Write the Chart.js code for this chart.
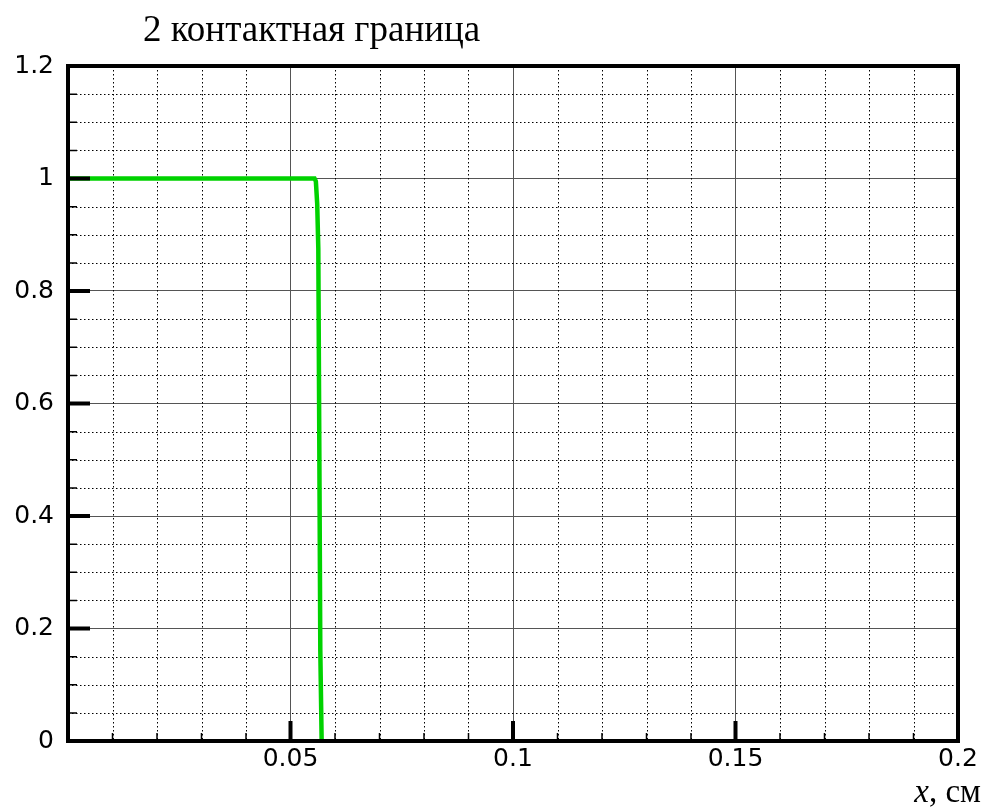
<!DOCTYPE html>
<html>
<head>
<meta charset="utf-8">
<script src="https://cdn.jsdelivr.net/npm/chart.js@4/dist/chart.umd.min.js"></script>
<style>
  html, body { margin: 0; padding: 0; background: #fff; }
  #wrap { width: 989px; height: 812px; }
</style>
</head>
<body>
<div id="wrap"><canvas id="c" width="989" height="812"></canvas></div>
<script>
// Concentration profile across the second contact boundary
const profileX = [0, 0.0554, 0.0557, 0.0560, 0.05625, 0.05649, 0.0567, 0.0570];
const profileY = [1, 1, 0.995, 0.955, 0.875, 0.5, 0.16, 0];

// Major axis ticks and their labels
const xTickValues = [0, 0.05, 0.1, 0.15, 0.2];
const xTickLabels = ['', '0.05', '0.1', '0.15', '0.2'];
const yTickValues = [0, 0.2, 0.4, 0.6, 0.8, 1, 1.2];
const yTickLabels = ['0', '0.2', '0.4', '0.6', '0.8', '1', '1.2'];

// Minor (dotted) grid positions
const xMinor = [0.01, 0.02, 0.03, 0.04, 0.06, 0.07, 0.08, 0.09, 0.11, 0.12, 0.13, 0.14, 0.16, 0.17, 0.18, 0.19];
const yMinor = [0.05, 0.1, 0.15, 0.25, 0.3, 0.35, 0.45, 0.5, 0.55, 0.65, 0.7, 0.75, 0.85, 0.9, 0.95, 1.05, 1.1, 1.15];

const titleText = '2 контактная граница';
const unitVar = 'x';
const unitRest = ', см';

const points = profileX.map((x, i) => ({ x: x, y: profileY[i] }));

const SERIF = '"Liberation Serif", "Times New Roman", serif';

const frame = {
  id: 'frame',
  beforeDatasetsDraw(chart) {
    const { ctx, chartArea: a, scales: { x, y } } = chart;
    ctx.save();
    ctx.strokeStyle = '#000';
    ctx.lineWidth = 1;
    ctx.setLineDash([1.5, 2.5]);
    ctx.beginPath();
    xMinor.forEach(v => {
      const px = Math.round(x.getPixelForValue(v)) + 0.5;
      ctx.moveTo(px, a.top); ctx.lineTo(px, a.bottom);
    });
    yMinor.forEach(v => {
      const py = Math.round(y.getPixelForValue(v)) + 0.5;
      ctx.moveTo(a.left, py); ctx.lineTo(a.right, py);
    });
    ctx.stroke();
    ctx.restore();
  },
  afterDatasetsDraw(chart) {
    const { ctx, chartArea: a, scales: { x, y } } = chart;
    ctx.save();
    ctx.strokeStyle = '#000';
    ctx.lineCap = 'butt';
    // minor ticks
    ctx.lineWidth = 1.5;
    ctx.beginPath();
    xMinor.forEach(v => {
      const px = x.getPixelForValue(v);
      ctx.moveTo(px, a.bottom); ctx.lineTo(px, a.bottom - 8);
    });
    yMinor.forEach(v => {
      const py = y.getPixelForValue(v);
      ctx.moveTo(a.left, py); ctx.lineTo(a.left + 9, py);
    });
    ctx.stroke();
    // major ticks
    ctx.lineWidth = 4;
    ctx.beginPath();
    xTickValues.forEach(v => {
      const px = x.getPixelForValue(v);
      ctx.moveTo(px, a.bottom); ctx.lineTo(px, a.bottom - 20);
    });
    yTickValues.forEach(v => {
      const py = y.getPixelForValue(v);
      ctx.moveTo(a.left, py); ctx.lineTo(a.left + 22, py);
    });
    ctx.stroke();
    // frame
    ctx.lineWidth = 4;
    ctx.strokeRect(a.left, a.top, a.right - a.left, a.bottom - a.top);
    ctx.restore();
  },
  afterDraw(chart) {
    const { ctx } = chart;
    ctx.save();
    ctx.fillStyle = '#000';
    ctx.textBaseline = 'alphabetic';
    ctx.textAlign = 'left';
    ctx.font = '37px ' + SERIF;
    ctx.fillText(titleText, 143, 41);
    // axis unit label, right-aligned
    ctx.font = '33px ' + SERIF;
    const restW = ctx.measureText(unitRest).width;
    ctx.textAlign = 'right';
    ctx.fillText(unitRest, 981, 802);
    ctx.font = 'italic 33px ' + SERIF;
    ctx.fillText(unitVar, 981 - restW, 802);
    ctx.restore();
  }
};

new Chart(document.getElementById('c'), {
  type: 'line',
  data: {
    datasets: [{
      data: points,
      borderColor: '#00d200',
      borderWidth: 4.5,
      pointRadius: 0,
      tension: 0,
      fill: false
    }]
  },
  options: {
    responsive: false,
    animation: false,
    devicePixelRatio: 1,
    layout: { padding: { left: 0, top: 66, right: 31, bottom: 0 } },
    plugins: { legend: { display: false }, tooltip: { enabled: false }, title: { display: false } },
    scales: {
      x: {
        type: 'linear',
        min: 0, max: 0.2,
        afterBuildTicks(s) { s.ticks = xTickValues.map(v => ({ value: v })); },
        afterFit(s) { s.height = 71; },
        ticks: {
          autoSkip: false,
          maxRotation: 0,
          padding: 3,
          color: '#000',
          font: { family: '"DejaVu Sans", sans-serif', size: 25 },
          callback: (v, i) => xTickLabels[i]
        },
        grid: { color: '#555', lineWidth: 1, drawTicks: false },
        border: { display: false }
      },
      y: {
        type: 'linear',
        min: 0, max: 1.2,
        afterBuildTicks(s) { s.ticks = yTickValues.map(v => ({ value: v })); },
        afterFit(s) { s.width = 68; },
        ticks: {
          autoSkip: false,
          padding: 14,
          color: '#000',
          font: { family: '"DejaVu Sans", sans-serif', size: 25 },
          callback: (v, i) => yTickLabels[i]
        },
        grid: { color: '#555', lineWidth: 1, drawTicks: false },
        border: { display: false }
      }
    }
  },
  plugins: [frame]
});
</script>
</body>
</html>
